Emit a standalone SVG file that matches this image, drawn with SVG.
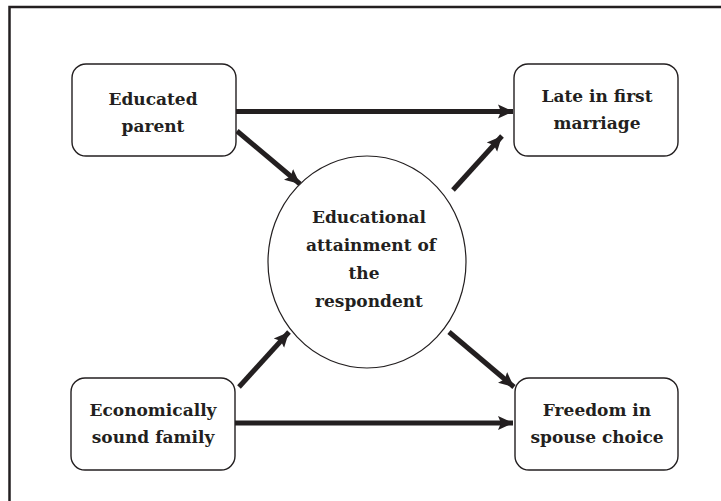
<svg xmlns="http://www.w3.org/2000/svg" width="721" height="501" viewBox="0 0 721 501">
<style>
.box{fill:#fff;stroke:#231f20;stroke-width:1.4}
.t{font-family:"DejaVu Serif","Liberation Serif",serif;font-weight:bold;font-size:17px;fill:#231f20;text-anchor:middle}
.c{stroke:#231f20;stroke-width:5;fill:none}
</style>
<defs>
<marker id="ah" markerUnits="userSpaceOnUse" markerWidth="16" markerHeight="16" viewBox="0 0 16 16" refX="15" refY="8" orient="auto">
<path d="M0,1 L15,8 L0,15 L3,8 Z" fill="#231f20"/>
</marker>
</defs>
<rect width="721" height="501" fill="#fff"/>
<path d="M9.5,510 L9.5,7 L730,7" fill="none" stroke="#231f20" stroke-width="2.5"/>
<g id="connectors">
<line class="c" x1="236" y1="111.5" x2="513" y2="111.5" marker-end="url(#ah)"/>
<line class="c" x1="235" y1="423" x2="513" y2="423" marker-end="url(#ah)"/>
<line class="c" x1="237" y1="131" x2="300" y2="184" marker-end="url(#ah)"/>
<line class="c" x1="239" y1="387" x2="289" y2="332" marker-end="url(#ah)"/>
<line class="c" x1="453" y1="190" x2="502" y2="136" marker-end="url(#ah)"/>
<line class="c" x1="449" y1="332" x2="514" y2="387" marker-end="url(#ah)"/>
</g>
<g id="educated-parent">
<rect class="box" x="72" y="64" width="164" height="92" rx="14"/>
<text class="t" x="153" y="105">Educated</text>
<text class="t" x="153" y="132">parent</text>
</g>
<g id="late-marriage">
<rect class="box" x="514" y="64" width="164" height="92" rx="14"/>
<text class="t" x="597" y="102">Late in first</text>
<text class="t" x="597" y="129">marriage</text>
</g>
<g id="economic-family">
<rect class="box" x="71" y="378" width="164" height="92" rx="14"/>
<text class="t" x="153" y="416">Economically</text>
<text class="t" x="153" y="443">sound family</text>
</g>
<g id="freedom-choice">
<rect class="box" x="515" y="378" width="163" height="92" rx="14"/>
<text class="t" x="597" y="416">Freedom in</text>
<text class="t" x="597" y="443">spouse choice</text>
</g>
<g id="educational-attainment">
<ellipse cx="367" cy="262" rx="99" ry="106" fill="#fff" stroke="#231f20" stroke-width="1.2"/>
<text class="t" x="369" y="223">Educational</text>
<text class="t" x="371" y="251">attainment of</text>
<text class="t" x="364" y="279">the</text>
<text class="t" x="369" y="307">respondent</text>
</g>
</svg>
